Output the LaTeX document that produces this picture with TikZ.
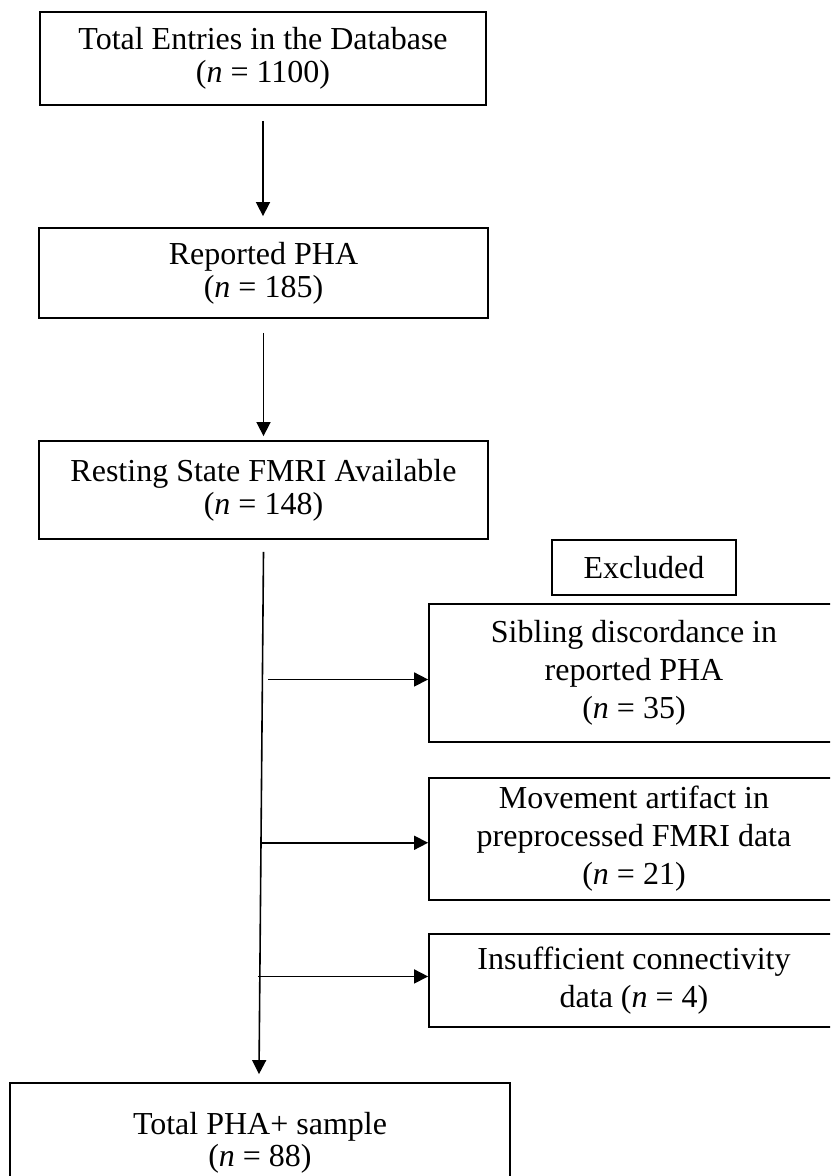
\documentclass[tikz,border=0pt]{standalone}
\usepackage{fontspec}
\setmainfont{Liberation Serif}
\usetikzlibrary{arrows.meta,calc}
\begin{document}
\begin{tikzpicture}[x=0.5pt,y=-0.5pt,
  box/.style={draw, line width=0.9pt, align=center, inner sep=0pt, font=\fontsize{16}{16.5}\selectfont},
  rbox/.style={box, font=\fontsize{16}{19}\selectfont, minimum width=205pt},
  arr/.style={-{Triangle[length=7pt,width=7pt]}, line width=0.8pt}]
\useasboundingbox (0,0) rectangle (830,1176);
\clip (0,0) rectangle (830,1176);
\node[box, minimum width=223pt, minimum height=46.5pt] (b1) at (263,58.5) {Total Entries in the Database\\(\textit{n} = 1100)};
\node[box, minimum width=224.5pt, minimum height=45pt] (b2) at (263.5,273) {Reported PHA\\(\textit{n} = 185)};
\node[box, minimum width=224.5pt, minimum height=49pt] (b3) at (263.5,490) {Resting State FMRI Available\\(\textit{n} = 148)};
\node[box, minimum width=92pt, minimum height=27.5pt] (ex) at (644,567.5) {Excluded};
\node[rbox, minimum height=69pt] (b4) at (634,673) {Sibling discordance in\\reported PHA\\(\textit{n} = 35)};
\node[rbox, minimum height=61pt] (b5) at (634,839) {Movement artifact in\\preprocessed FMRI data\\(\textit{n} = 21)};
\node[rbox, minimum height=46.5pt] (b6) at (634,980.5) {Insufficient connectivity\\data (\textit{n} = 4)};
\node[box, minimum width=250pt, minimum height=60pt, font=\fontsize{16}{16}\selectfont] (b7) at (260,1143) {Total PHA+ sample\\(\textit{n} = 88)};
\draw[arr] ($(b1.south)+(0,15)$) -- ($(b1.south |- b2.north)+(0,-11)$);
\draw[arr] ($(b2.south)+(0,14)$) -- ($(b3.north)+(0,-4)$);
\coordinate (ltop) at ($(b3.south)+(0,12)$);
\coordinate (lbot) at ($(b7.north)+(-1,-8)$);
\draw[arr] (ltop) -- (lbot);
\coordinate (j1) at ($(ltop)!0.2443!(lbot)$);
\coordinate (j2) at ($(ltop)!0.557!(lbot)$);
\coordinate (j3) at ($(ltop)!0.813!(lbot)$);
\draw[arr] ($(j1)+(6,0)$) -- (j1 -| b4.west);
\draw[arr] (j2) -- (j2 -| b5.west);
\draw[arr] ($(j3)+(-2,0)$) -- (j3 -| b6.west);
\end{tikzpicture}
\end{document}
